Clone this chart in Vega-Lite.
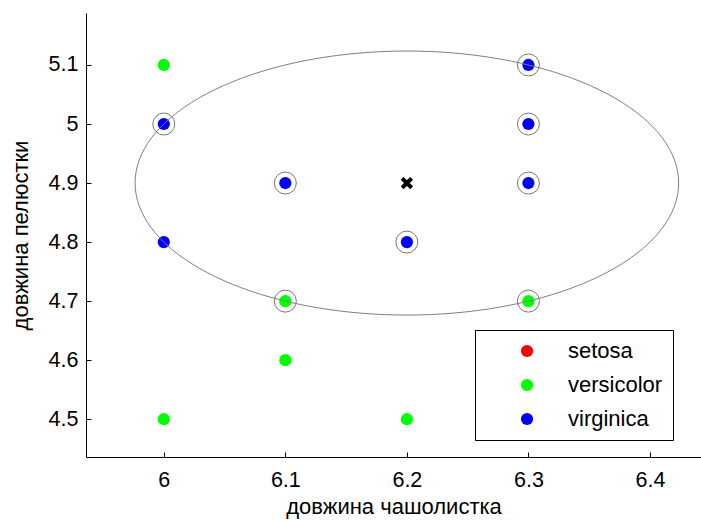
{
  "$schema": "https://vega.github.io/schema/vega-lite/v6.json",
  "width": 615,
  "height": 444,
  "autosize": {"type": "none"},
  "padding": {"left": 86, "top": 13, "right": 0, "bottom": 64},
  "background": "white",
  "config": {
    "font": "Liberation Sans",
    "view": {"stroke": null},
    "axis": {
      "grid": false,
      "domainColor": "black",
      "tickColor": "black",
      "labelColor": "black",
      "titleColor": "black",
      "labelFontSize": 21.5,
      "titleFontSize": 22,
      "titleFontWeight": "normal",
      "tickSize": -5,
      "domainWidth": 1,
      "tickWidth": 1
    }
  },
  "datasets": {
    "pts": [
      {"x": 6.0, "y": 5.1, "species": "versicolor"},
      {"x": 6.0, "y": 4.5, "species": "versicolor"},
      {"x": 6.1, "y": 4.7, "species": "versicolor"},
      {"x": 6.1, "y": 4.6, "species": "versicolor"},
      {"x": 6.2, "y": 4.5, "species": "versicolor"},
      {"x": 6.3, "y": 4.7, "species": "versicolor"},
      {"x": 6.0, "y": 5.0, "species": "virginica"},
      {"x": 6.0, "y": 4.8, "species": "virginica"},
      {"x": 6.1, "y": 4.9, "species": "virginica"},
      {"x": 6.2, "y": 4.8, "species": "virginica"},
      {"x": 6.3, "y": 5.1, "species": "virginica"},
      {"x": 6.3, "y": 5.0, "species": "virginica"},
      {"x": 6.3, "y": 4.9, "species": "virginica"}
    ],
    "nn": [
      {"x": 6.0, "y": 5.0},
      {"x": 6.1, "y": 4.9},
      {"x": 6.1, "y": 4.7},
      {"x": 6.2, "y": 4.8},
      {"x": 6.3, "y": 5.1},
      {"x": 6.3, "y": 5.0},
      {"x": 6.3, "y": 4.9},
      {"x": 6.3, "y": 4.7}
    ],
    "q": [{"x": 6.2, "y": 4.9}],
    "ell": [
      {"i": 0, "x": 6.42361, "y": 4.9},
      {"i": 1, "x": 6.42021, "y": 4.93883},
      {"i": 2, "x": 6.41013, "y": 4.97648},
      {"i": 3, "x": 6.39365, "y": 5.0118},
      {"i": 4, "x": 6.3713, "y": 5.04373},
      {"i": 5, "x": 6.34373, "y": 5.0713},
      {"i": 6, "x": 6.3118, "y": 5.09365},
      {"i": 7, "x": 6.27648, "y": 5.11013},
      {"i": 8, "x": 6.23883, "y": 5.12021},
      {"i": 9, "x": 6.2, "y": 5.12361},
      {"i": 10, "x": 6.16117, "y": 5.12021},
      {"i": 11, "x": 6.12352, "y": 5.11013},
      {"i": 12, "x": 6.0882, "y": 5.09365},
      {"i": 13, "x": 6.05627, "y": 5.0713},
      {"i": 14, "x": 6.0287, "y": 5.04373},
      {"i": 15, "x": 6.00635, "y": 5.0118},
      {"i": 16, "x": 5.98987, "y": 4.97648},
      {"i": 17, "x": 5.97979, "y": 4.93883},
      {"i": 18, "x": 5.97639, "y": 4.9},
      {"i": 19, "x": 5.97979, "y": 4.86117},
      {"i": 20, "x": 5.98987, "y": 4.82352},
      {"i": 21, "x": 6.00635, "y": 4.7882},
      {"i": 22, "x": 6.0287, "y": 4.75627},
      {"i": 23, "x": 6.05627, "y": 4.7287},
      {"i": 24, "x": 6.0882, "y": 4.70635},
      {"i": 25, "x": 6.12352, "y": 4.68987},
      {"i": 26, "x": 6.16117, "y": 4.67979},
      {"i": 27, "x": 6.2, "y": 4.67639},
      {"i": 28, "x": 6.23883, "y": 4.67979},
      {"i": 29, "x": 6.27648, "y": 4.68987},
      {"i": 30, "x": 6.3118, "y": 4.70635},
      {"i": 31, "x": 6.34373, "y": 4.7287},
      {"i": 32, "x": 6.3713, "y": 4.75627},
      {"i": 33, "x": 6.39365, "y": 4.7882},
      {"i": 34, "x": 6.41013, "y": 4.82352},
      {"i": 35, "x": 6.42021, "y": 4.86117}
    ]
  },
  "layer": [
    {
      "data": {"name": "pts"},
      "mark": {"type": "point", "filled": true, "shape": "circle", "size": 150, "opacity": 1},
      "encoding": {
        "x": {
          "field": "x", "type": "quantitative",
          "scale": {"domain": [5.936, 6.442], "nice": false, "zero": false},
          "axis": {"values": [6, 6.1, 6.2, 6.3, 6.4], "format": "~g", "labelPadding": 17, "title": "довжина чашолистка", "titlePadding": 6}
        },
        "y": {
          "field": "y", "type": "quantitative",
          "scale": {"domain": [4.436, 5.188], "nice": false, "zero": false},
          "axis": {"values": [4.5, 4.6, 4.7, 4.8, 4.9, 5.0, 5.1], "format": "~g", "labelPadding": 13, "title": "довжина пелюстки", "titlePadding": 16}
        },
        "color": {
          "field": "species", "type": "nominal",
          "scale": {"domain": ["setosa", "versicolor", "virginica"], "range": ["#ff0000", "#00ff00", "#0000ff"]},
          "legend": {
            "title": null,
            "orient": "none",
            "legendX": 389,
            "legendY": 317,
            "direction": "vertical",
            "strokeColor": "black",
            "fillColor": "white",
            "padding": 10,
            "rowPadding": 12,
            "symbolSize": 150,
            "symbolType": "circle",
            "symbolOffset": 31,
            "labelOffset": 30,
            "labelFontSize": 22,
            "labelColor": "black",
            "labelLimit": 300
          }
        }
      }
    },
    {
      "data": {"name": "nn"},
      "mark": {"type": "point", "filled": false, "shape": "circle", "size": 484, "stroke": "#777777", "strokeWidth": 1, "opacity": 1},
      "encoding": {
        "x": {"field": "x", "type": "quantitative"},
        "y": {"field": "y", "type": "quantitative"}
      }
    },
    {
      "data": {"name": "ell"},
      "mark": {"type": "line", "interpolate": "cardinal-closed", "stroke": "#808080", "strokeWidth": 1},
      "encoding": {
        "x": {"field": "x", "type": "quantitative"},
        "y": {"field": "y", "type": "quantitative"},
        "order": {"field": "i", "type": "quantitative"}
      }
    },
    {
      "data": {"name": "q"},
      "mark": {"type": "point", "shape": "M-1,-1L1,1M1,-1L-1,1", "filled": false, "size": 90, "stroke": "black", "strokeWidth": 4, "opacity": 1},
      "encoding": {
        "x": {"field": "x", "type": "quantitative"},
        "y": {"field": "y", "type": "quantitative"}
      }
    }
  ]
}
